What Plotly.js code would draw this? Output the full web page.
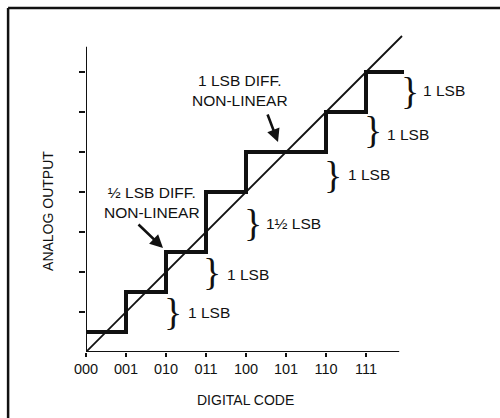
<!DOCTYPE html>
<html>
<head>
<meta charset="utf-8">
<script src="https://cdn.plot.ly/plotly-3.0.1.min.js"></script>
<style>html,body{margin:0;padding:0;background:#fff;}#chart{width:500px;height:418px;}</style>
</head>
<body>
<div id="chart"></div>
<script>
// ---- data ----
const codes = [0, 1, 2, 3, 4, 5, 6, 7];
const codeLabels = ['000', '001', '010', '011', '100', '101', '110', '111'];
const outputLevels = [0.5, 1.5, 2.5, 4, 5, 5, 6, 7];   // analog output (LSB) per code
const stairEnd = 7.95;
const idealX = [0, 7.9];
const idealY = [0, 7.9];
const yTicks = [1, 2, 3, 4, 5, 6, 7];
const axisXEnd = 7.83;
const axisYEnd = 7.63;
// step-size braces
const braceX = [2.17, 3.15, 4.17, 6.17, 7.17, 8.1];
const braceY = [1.0, 2.0, 3.22, 4.43, 5.55, 6.53];
const braceLabelX = [2.5, 3.48, 4.45, 6.5, 7.47, 8.37];
const braceLabelY = [1.0, 1.93, 3.22, 4.43, 5.43, 6.55];
const braceLabels = ['1 LSB', '1 LSB', '1\u00BD LSB', '1 LSB', '1 LSB', '1 LSB'];
// callouts
const calloutText = ['\u00BD LSB DIFF.<br>NON-LINEAR', '1 LSB DIFF.<br>NON-LINEAR'];
const calloutX = [1.65, 3.85];
const calloutY = [3.75, 6.55];
const arrowTailX = [1.275, 4.525];
const arrowTailY = [3.225, 5.975];
const arrowTipX = [1.925, 4.8];
const arrowTipY = [2.6, 5.25];

const FONT = 'Liberation Sans, Arial, Helvetica, sans-serif';

const stairX = codes.concat([stairEnd]);
const stairY = outputLevels.concat([outputLevels[outputLevels.length - 1]]);

const traces = [
  {x: idealX, y: idealY, mode: 'lines', line: {color: '#111', width: 1.8}, hoverinfo: 'skip'},
  {x: stairX, y: stairY, mode: 'lines', line: {color: '#111', width: 4, shape: 'hv'}, hoverinfo: 'skip'}
];

const annotations = [];
for (let i = 0; i < braceX.length; i++) {
  annotations.push({x: braceX[i], y: braceY[i], xref: 'x', yref: 'y', text: '}', showarrow: false,
    xanchor: 'center', yanchor: 'middle', font: {family: 'Liberation Serif, Times New Roman, serif', size: 38, color: '#111'}});
  annotations.push({x: braceLabelX[i], y: braceLabelY[i], xref: 'x', yref: 'y', text: braceLabels[i], showarrow: false,
    xanchor: 'left', yanchor: 'middle', font: {family: FONT, size: 15.5, color: '#111'}});
}
for (let i = 0; i < calloutText.length; i++) {
  annotations.push({x: calloutX[i], y: calloutY[i], xref: 'x', yref: 'y', text: calloutText[i], showarrow: false,
    xanchor: 'center', yanchor: 'middle', align: 'center', font: {family: FONT, size: 15.5, color: '#111'}});
  annotations.push({x: arrowTipX[i], y: arrowTipY[i], xref: 'x', yref: 'y', ax: arrowTailX[i], ay: arrowTailY[i],
    axref: 'x', ayref: 'y', text: '', showarrow: true, arrowhead: 2, arrowsize: 1, arrowwidth: 2.6,
    arrowcolor: '#111', standoff: 0, startstandoff: 0});
}
annotations.push({x: -0.0927, y: 0.41, xref: 'paper', yref: 'paper', text: 'ANALOG OUTPUT', textangle: -90,
  showarrow: false, xanchor: 'center', yanchor: 'middle', font: {family: FONT, size: 14, color: '#111'}});
annotations.push({x: 3.975, y: -0.1395, xref: 'x', yref: 'paper', text: 'DIGITAL CODE',
  showarrow: false, xanchor: 'center', yanchor: 'middle', font: {family: FONT, size: 14, color: '#111'}});

const shapes = [
  // axis lines
  {type: 'line', xref: 'x', yref: 'y', x0: 0, y0: 0, x1: axisXEnd, y1: 0, line: {color: '#111', width: 2}},
  {type: 'line', xref: 'x', yref: 'y', x0: 0, y0: 0, x1: 0, y1: axisYEnd, line: {color: '#111', width: 2}},
  // frame (left and top edges)
  {type: 'line', xref: 'paper', yref: 'paper', x0: -0.19, y0: 1.0, x1: 1.02, y1: 1.0, line: {color: '#111', width: 2.5}},
  {type: 'line', xref: 'paper', yref: 'paper', x0: -0.19, y0: 1.0, x1: -0.19, y1: -0.2, line: {color: '#111', width: 2.5}}
];

const layout = {
  width: 500, height: 418,
  margin: {l: 86, r: 4, t: 8, b: 66},
  paper_bgcolor: '#fff', plot_bgcolor: 'rgba(0,0,0,0)',
  showlegend: false,
  xaxis: {range: [0, 10.25], tickvals: codes, ticktext: codeLabels, ticks: 'outside', ticklen: 4,
    tickwidth: 1.5, tickcolor: '#111', showline: false, showgrid: false, zeroline: false,
    tickfont: {family: FONT, size: 14.5, color: '#111'}, fixedrange: true},
  yaxis: {range: [0, 8.6], tickvals: yTicks, showticklabels: false, ticks: 'outside', ticklen: 6,
    tickwidth: 1.5, tickcolor: '#111', showline: false, showgrid: false, zeroline: false, fixedrange: true},
  shapes: shapes,
  annotations: annotations
};

Plotly.newPlot('chart', traces, layout, {displayModeBar: false, staticPlot: true});
</script>
</body>
</html>
